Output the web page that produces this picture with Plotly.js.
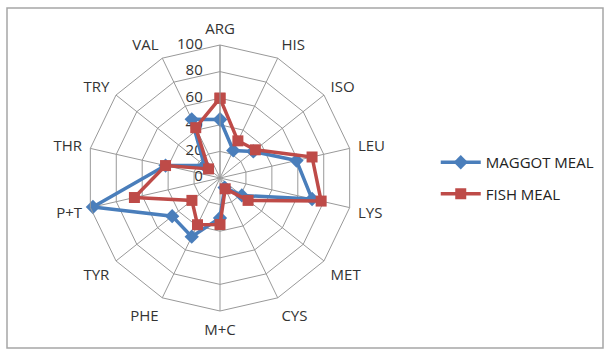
<!DOCTYPE html>
<html>
<head>
<meta charset="utf-8">
<script src="https://cdn.plot.ly/plotly-3.0.1.min.js"></script>
<style>html,body{margin:0;padding:0;background:#fff;}#chart{width:612px;height:356px;}</style>
</head>
<body>
<div id="chart"></div>
<script>
const categories = ["ARG","HIS","ISO","LEU","LYS","MET","CYS","M+C","PHE","TYR","P+T","THR","TRY","VAL"];
const maggotMeal = [44, 23, 32, 59, 71, 21, 8, 30, 49, 46, 98, 42, 15, 49];
const fishMeal   = [60, 31, 34, 71, 78, 27, 9, 35, 39, 27, 66, 42, 11, 42];
const radialTicks = [0, 20, 40, 60, 80, 100];

function closed(a){ return a.concat([a[0]]); }

const traces = [
  {type:"scatterpolar", r:radialTicks.map(v => Math.max(v, 0.5)), theta:radialTicks.map(() => categories[0]),
   mode:"markers+text", text:radialTicks.map(String), textposition:"middle left",
   textfont:{size:15, color:"#333"}, marker:{size:26, opacity:0},
   cliponaxis:false, showlegend:false, hoverinfo:"skip"},
  {type:"scatterpolar", name:"MAGGOT MEAL", legendgroup:"m", r:closed(maggotMeal), theta:closed(categories),
   mode:"lines+markers", line:{color:"#4a7ebb", width:3.5},
   marker:{symbol:"diamond", size:11, color:"#4a7ebb"}},
  {type:"scatterpolar", name:"FISH MEAL", legendgroup:"f", r:closed(fishMeal), theta:closed(categories),
   mode:"lines+markers", line:{color:"#be4b48", width:3.5},
   marker:{symbol:"square", size:11, color:"#be4b48"}}
];

const layout = {
  width:612, height:356,
  margin:{l:0,r:0,t:0,b:0},
  paper_bgcolor:"#fff",
  font:{family:"Open Sans, Liberation Sans, sans-serif", size:15, color:"#333"},
  showlegend:true,
  legend:{x:0.712, y:0.50, xanchor:"left", yanchor:"middle", font:{size:15, color:"#222"},
          tracegroupgap:9, itemwidth:40},
  polar:{
    domain:{x:[87/612, 353/612], y:[(356-311)/356, (356-45)/356]},
    gridshape:"linear",
    bgcolor:"rgba(0,0,0,0)",
    angularaxis:{rotation:90, direction:"clockwise", linecolor:"#999", linewidth:1,
                 gridcolor:"#999", gridwidth:1, showline:true, ticks:"outside", ticklen:5,
                 tickcolor:"rgba(0,0,0,0)",
                 tickfont:{size:15, color:"#333"}},
    radialaxis:{range:[0,100], tickvals:radialTicks, showticklabels:false,
                angle:90, showline:true,
                linecolor:"#999", gridcolor:"#999", gridwidth:1, ticks:""}
  },
  shapes:[{type:"rect", xref:"paper", yref:"paper", x0:7/612, x1:603/612, y0:(356-348)/356, y1:(356-8)/356,
           line:{color:"#a6a6a6", width:1.5}}]
};

Plotly.newPlot("chart", traces, layout, {displayModeBar:false});
</script>
</body>
</html>
